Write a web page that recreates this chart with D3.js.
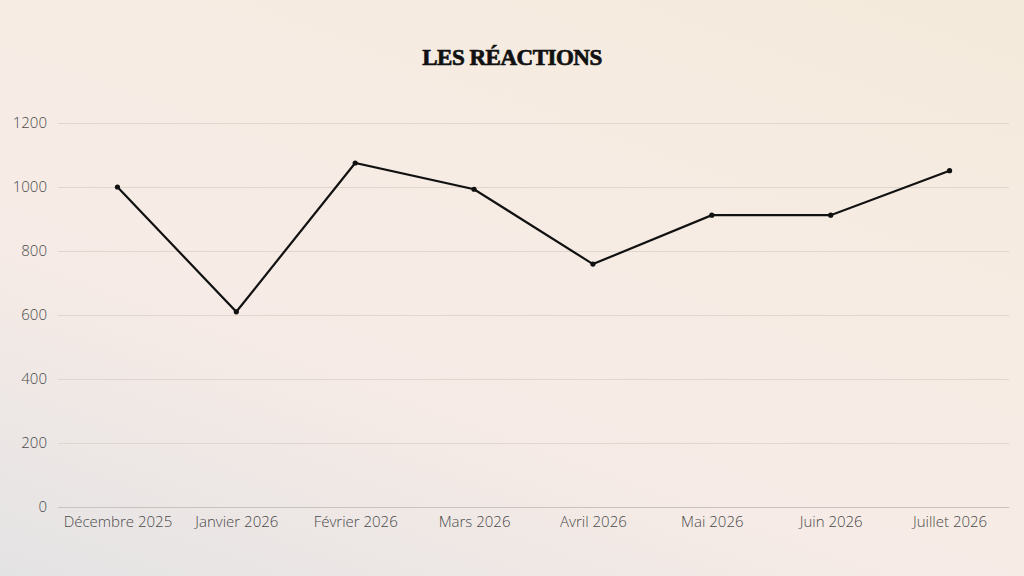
<!DOCTYPE html>
<html><head><meta charset="utf-8">
<script src="https://cdn.jsdelivr.net/npm/d3@7"></script>
<style>
html,body{margin:0;padding:0;width:1024px;height:576px;overflow:hidden;}
body{background:linear-gradient(20deg,#e4e3e4 0%,#f6ebe6 35%,#f7ece4 60%,#f3eadb 100%);}
svg{display:block;}
</style></head><body>
<svg id="c" width="1024" height="576"></svg>
<script>
const categories = ["Décembre 2025","Janvier 2026","Février 2026","Mars 2026","Avril 2026","Mai 2026","Juin 2026","Juillet 2026"];
const values = [1000, 610, 1075, 993, 759, 912, 912, 1051];
const yTicks = [0, 200, 400, 600, 800, 1000, 1200];
const title = "LES RÉACTIONS";

const svg = d3.select("#c");
const m = {left:58, right:1009, top:123, bottom:507};
const x = d3.scalePoint().domain(categories).range([m.left, m.right]).padding(0.5);
const y = d3.scaleLinear().domain([0,1200]).range([m.bottom, m.top]);

svg.append("text").attr("x",512).attr("y",65).attr("text-anchor","middle")
  .attr("font-family","'Liberation Serif','DejaVu Serif',serif").attr("font-weight","bold")
  .attr("font-size",23).attr("fill","#111").attr("stroke","#111").attr("stroke-width",0.7)
  .attr("letter-spacing","-0.5").text(title);

const labelFont = "'Open Sans',sans-serif";
const yAxis = svg.append("g").attr("transform",`translate(${m.left},0)`)
  .call(d3.axisLeft(y).tickValues(yTicks).tickSize(-(m.right-m.left)).tickPadding(11).tickFormat(d3.format("d")));
yAxis.select(".domain").remove();
yAxis.selectAll(".tick line").attr("stroke","#e0d6cd").attr("stroke-width",1);
yAxis.selectAll(".tick").filter(d=>d===0).select("line").attr("stroke","#c9c2bd");
yAxis.selectAll("text").attr("font-family",labelFont).attr("font-weight",300).attr("font-size",15).attr("fill","#4a4a4a");

const xAxis = svg.append("g").attr("transform",`translate(0,${m.bottom})`)
  .call(d3.axisBottom(x).tickSize(0).tickPadding(9));
xAxis.select(".domain").remove();
xAxis.selectAll("text").attr("font-family",labelFont).attr("font-weight",300).attr("font-size",15).attr("fill","#4a4a4a");

const data = categories.map((c,i)=>({c, v:values[i]}));
svg.append("path").datum(data)
  .attr("fill","none").attr("stroke","#111").attr("stroke-width",2.2).attr("stroke-linejoin","miter")
  .attr("d", d3.line().x(d=>x(d.c)).y(d=>y(d.v)));
svg.selectAll("circle.pt").data(data).enter().append("circle")
  .attr("cx",d=>x(d.c)).attr("cy",d=>y(d.v)).attr("r",2.6).attr("fill","#111");
</script></body></html>
